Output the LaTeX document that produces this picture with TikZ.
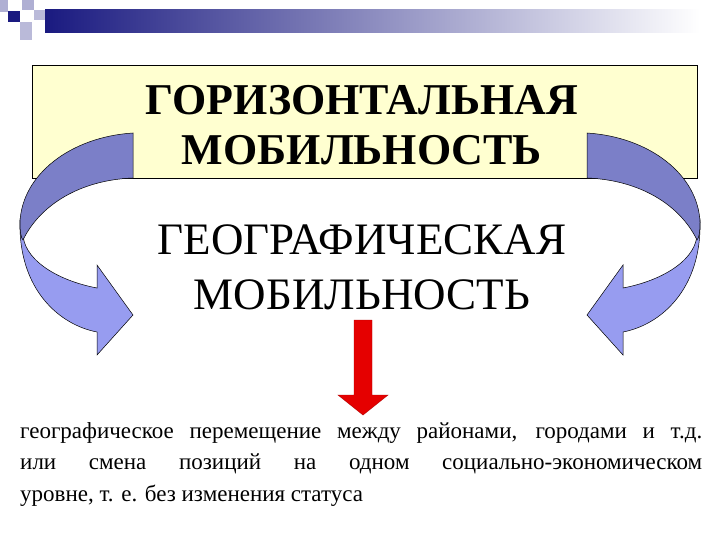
\documentclass[tikz,border=0pt]{standalone}
\usepackage{fontspec}
\setmainfont{Liberation Serif}
\begin{document}
\begin{tikzpicture}[x=1pt,y=-1pt,
  arrdark/.style={fill=arrD,draw=black,line width=0.5pt},
  arrlight/.style={fill=arrL,draw=black,line width=0.5pt},
  big/.style={align=center}]
\definecolor{arrD}{HTML}{7B7FC8}
\definecolor{arrL}{HTML}{979CF0}
\definecolor{boxY}{HTML}{FFFFD0}
\definecolor{navy}{HTML}{1A1A80}
\useasboundingbox (0,0) rectangle (720,540);
\fill[white] (0,0) rectangle (720,540);
% header
\shade[left color=navy,right color=white] (45,10) rectangle (700,33);
\fill[navy!35] (0,0) rectangle (8,12);
\fill[navy!35] (22,0) rectangle (34,10);
\fill[navy!30] (20,22) rectangle (32,40);
\fill[navy!30] (34,10) rectangle (45,20);
\fill[navy] (8,11) rectangle (20,22);
% box
\node[draw=black,fill=boxY,minimum width=665pt,minimum height=113pt,inner sep=0pt,anchor=north west] (box) at (32,65) {};
\node[big,font=\fontsize{44}{50}\selectfont\bfseries] (t1) at (362,125) {ГОРИЗОНТАЛЬНАЯ\\МОБИЛЬНОСТЬ};
% curved arrows
\foreach \s/\o in {1/0,-1/720}{
\begin{scope}[xshift=\o,xscale=\s]
\path[arrlight] (20,220) .. controls (18,290) and (60,325) .. (97,332) -- (97,355) -- (133,315) -- (97,265) -- (97,288) .. controls (55,280) and (22,258) .. (23,232) -- cycle;
\path[arrdark] (133,133) .. controls (70,137) and (22,175) .. (20,222) .. controls (20,232) and (21,238) .. (23,240) .. controls (40,205) and (80,180) .. (133,178) -- cycle;
\end{scope}}
\node[big,font=\fontsize{45}{55}\selectfont] (t2) at (362,267) {ГЕОГРАФИЧЕСКАЯ\\МОБИЛЬНОСТЬ};
% red arrow
\coordinate (rt) at (363,415);
\fill[red!90!black,draw=red!70!black] (354,320) -- (372,320) -- (372,395) -- (388,395) -- (rt) -- (338,395) -- (354,395) -- cycle;
\node[anchor=north west,inner sep=0pt,align=left,font=\fontsize{23}{31.5}\selectfont] (t3) at (20,422) {\makebox[682pt][s]{географическое перемещение между районами, городами и т.д.}\\\makebox[682pt][s]{или смена позиций на одном социально-экономическом}\\уровне, т. е. без изменения статуса};
\end{tikzpicture}
\end{document}
